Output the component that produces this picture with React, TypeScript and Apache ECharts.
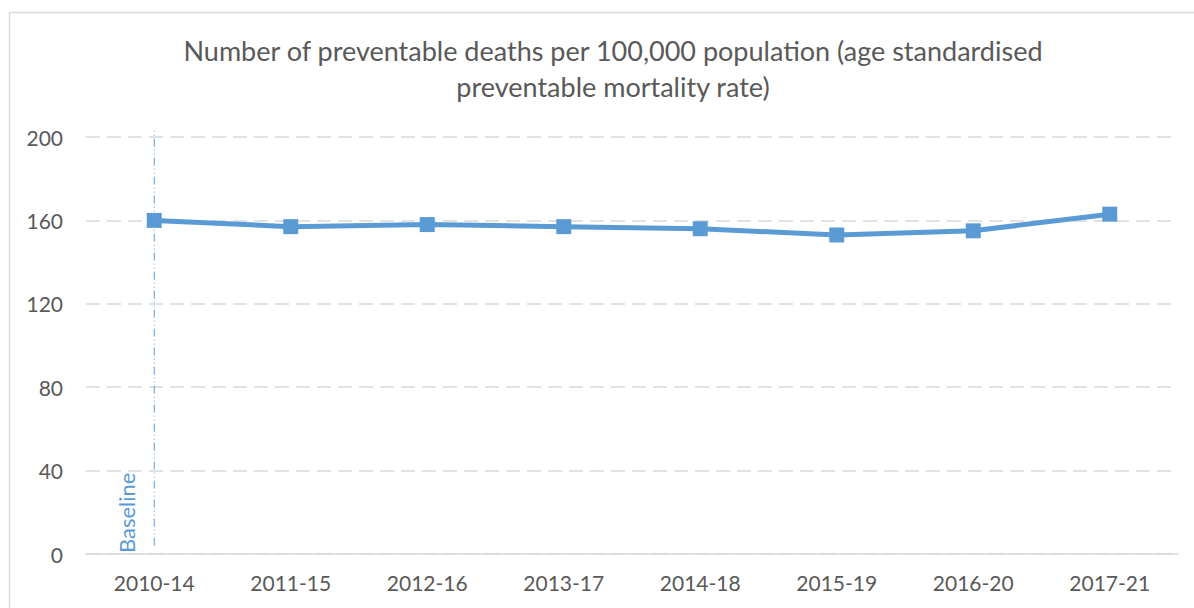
import React, { useEffect, useRef } from "react";
import * as echarts from "echarts";

// Rolling five-year periods and their age standardised preventable mortality rates
const periods = ["2010-14", "2011-15", "2012-16", "2013-17", "2014-18", "2015-19", "2016-20", "2017-21"];
const rates = [160, 157, 158, 157, 156, 153, 155, 163];

// Y axis scale
const yMin = 0;
const yMax = 200;
const yStep = 40;

// Vertical baseline marker at the first period
const baselinePeriod = "2010-14";
const baselineFrom = 4;
const baselineTo = 204;
const baselineLabel = "Baseline";

const titleText = "Number of preventable deaths per 100,000 population (age standardised\npreventable mortality rate)";

const FONT = "Lato, 'Open Sans', sans-serif";
const TEXT = "#595959";
const BLUE = "#5B9BD5";
const GRID = "#d9d9d9";

export default function App() {
  const ref = useRef<HTMLDivElement>(null);

  useEffect(() => {
    if (!ref.current) return;
    const chart = echarts.init(ref.current, undefined, { renderer: "svg" });
    chart.setOption({
      animation: false,
      backgroundColor: "#ffffff",
      title: {
        text: titleText,
        left: 608,
        textAlign: "center",
        top: 27,
        textStyle: {
          fontFamily: FONT,
          fontSize: 27,
          fontWeight: "normal",
          color: TEXT,
          lineHeight: 36,
        },
      },
      grid: { left: 86, right: 16, top: 137, bottom: 54 },
      xAxis: {
        type: "category",
        data: periods,
        boundaryGap: true,
        axisLine: { lineStyle: { color: GRID, width: 1.5 } },
        axisTick: { show: false },
        axisLabel: {
          fontFamily: FONT,
          fontSize: 21,
          color: TEXT,
          margin: 18,
        },
        splitLine: { show: false },
      },
      yAxis: {
        type: "value",
        min: yMin,
        max: yMax,
        interval: yStep,
        axisLine: { show: false },
        axisTick: { show: false },
        axisLabel: {
          fontFamily: FONT,
          fontSize: 21,
          color: TEXT,
          margin: 23,
        },
        splitLine: {
          lineStyle: { color: GRID, width: 1.5, type: [14, 7] },
        },
      },
      series: [
        {
          type: "line",
          data: rates,
          symbol: "rect",
          symbolSize: 15,
          lineStyle: { color: BLUE, width: 5 },
          itemStyle: { color: BLUE },
          z: 3,
        },
      ],
    });

    // Baseline marker: a dash-dot vertical line placed through the chart's own scales
    const [bx, by0] = chart.convertToPixel({ gridIndex: 0 }, [baselinePeriod, baselineFrom]) as number[];
    const [, by1] = chart.convertToPixel({ gridIndex: 0 }, [baselinePeriod, baselineTo]) as number[];
    const [, yZero] = chart.convertToPixel({ gridIndex: 0 }, [baselinePeriod, yMin]) as number[];

    chart.setOption({
      graphic: [
        {
          type: "rect",
          shape: { x: 9.5, y: 12.5, width: 1200, height: 700 },
          style: { fill: "none", stroke: GRID, lineWidth: 1.5 },
          silent: true,
          z: -1,
        },
        {
          type: "line",
          shape: { x1: bx, y1: by0, x2: bx, y2: by1 },
          style: { stroke: BLUE, lineWidth: 1, lineDash: [8, 3, 1, 3, 1, 3] },
          silent: true,
          z: 1,
        },
        {
          type: "text",
          x: bx - 17,
          y: yZero - 1,
          rotation: Math.PI / 2,
          style: {
            text: baselineLabel,
            fontFamily: FONT,
            fontSize: 22,
            fill: BLUE,
            align: "left",
            verticalAlign: "bottom",
          },
          silent: true,
        },
      ],
    });
    return () => chart.dispose();
  }, []);

  return (
    <div
      ref={ref}
      style={{ position: "fixed", left: 0, top: 0, width: 1194, height: 608 }}
    />
  );
}
